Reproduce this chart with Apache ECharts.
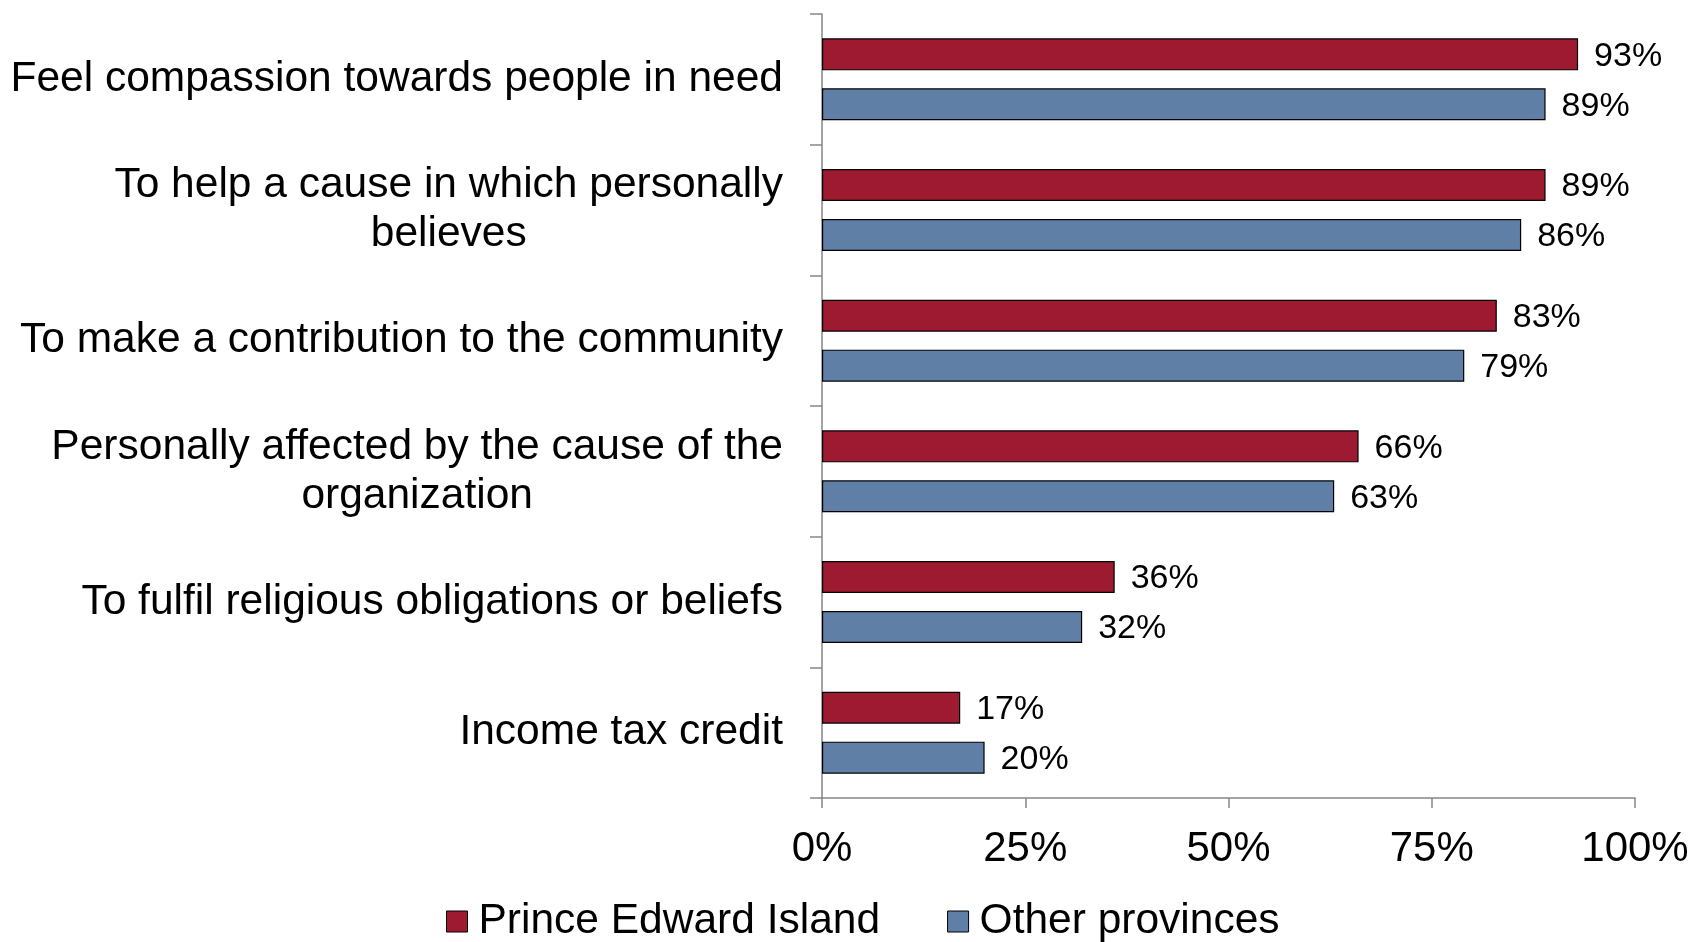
<!DOCTYPE html>
<html>
<head>
<meta charset="utf-8">
<title>Reasons for giving</title>
<script src="https://cdn.jsdelivr.net/npm/echarts@6/dist/echarts.min.js"></script>
<style>
  html, body { margin: 0; padding: 0; background: #fff; }
  #chart { width: 1696px; height: 942px; }
</style>
</head>
<body>
<div id="chart"></div>
<script>
const categories = [
  'Feel compassion towards people in need',
  'To help a cause in which personally\nbelieves',
  'To make a contribution to the community',
  'Personally affected by the cause of the\norganization',
  'To fulfil religious obligations or beliefs',
  'Income tax credit'
]
const peiValues = [93, 89, 83, 66, 36, 17]
const otherValues = [89, 86, 79, 63, 32, 20]
const xTicks = [0, 25, 50, 75, 100]

const fontFamily = '"Liberation Sans", Arial, sans-serif'
const axisColor = '#868686'

const chart = echarts.init(document.getElementById('chart'))

function barSeries(name, data, color) {
  return {
    name: name,
    type: 'bar',
    data: data,
    barWidth: 32,
    barGap: '56%',
    itemStyle: {
      color: color,
      borderColor: '#000',
      borderWidth: 1.2
    },
    label: {
      show: true,
      position: 'right',
      distance: 16,
      offset: [0, 2],
      formatter: '{c}%',
      color: '#000',
      fontSize: 34,
      fontFamily: fontFamily
    }
  }
}

chart.setOption({
  animation: false,
  textStyle: { fontFamily: fontFamily },
  grid: {
    left: 822,
    right: 61,
    top: 14,
    bottom: 144,
    outerBoundsMode: 'none'
  },
  legend: {
    left: 441,
    top: 895,
    icon: 'rect',
    itemWidth: 21,
    itemHeight: 21,
    itemGap: 67,
    itemStyle: { borderColor: '#000', borderWidth: 1 },
    textStyle: {
      fontSize: 42.5,
      color: '#000',
      padding: [0, 0, 0, 6]
    },
    data: ['Prince Edward Island', 'Other provinces']
  },
  xAxis: {
    type: 'value',
    min: xTicks[0],
    max: xTicks[xTicks.length - 1],
    interval: 25,
    axisLine: { show: true, lineStyle: { color: axisColor, width: 1.5 } },
    axisTick: { show: true, length: 10, lineStyle: { color: axisColor, width: 1.5 } },
    splitLine: { show: false },
    axisLabel: {
      formatter: '{value}%',
      fontSize: 42,
      color: '#000',
      margin: 30
    }
  },
  yAxis: {
    type: 'category',
    inverse: true,
    data: categories,
    axisLine: { show: true, lineStyle: { color: axisColor, width: 1.5 } },
    axisTick: { show: true, length: 12, interval: 0, lineStyle: { color: axisColor, width: 1.5 } },
    axisLabel: {
      margin: 39,
      interval: 0,
      formatter: function (v) {
        // multi-line labels are centred inside their block
        return v.split('\n').map(function (s) { return '{c|' + s + '}' }).join('\n')
      },
      rich: {
        c: {
          fontSize: 42.5,
          color: '#000',
          align: 'center',
          lineHeight: 49,
          fontFamily: fontFamily
        }
      }
    }
  },
  series: [
    barSeries('Prince Edward Island', peiValues, '#9D1A31'),
    barSeries('Other provinces', otherValues, '#5F7FA7')
  ]
})
</script>
</body>
</html>
